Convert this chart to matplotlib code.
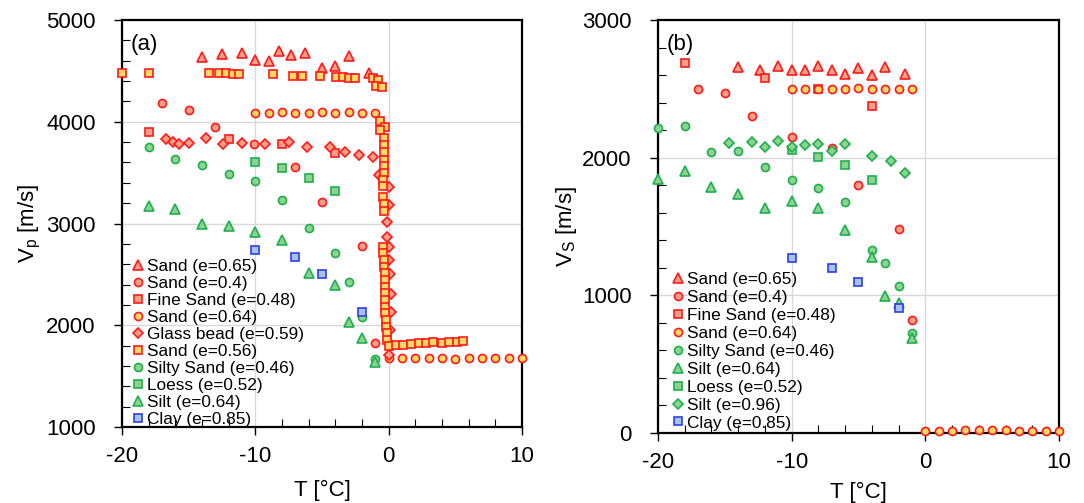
import matplotlib
matplotlib.use("Agg")
import matplotlib.pyplot as plt
from matplotlib.ticker import MultipleLocator

plt.rcParams['font.family'] = ['Liberation Sans', 'DejaVu Sans']
plt.rcParams['mathtext.fontset'] = 'custom'
plt.rcParams['mathtext.rm'] = 'Liberation Sans'
plt.rcParams['mathtext.it'] = 'Liberation Sans:italic'
plt.rcParams['axes.unicode_minus'] = False

# ---------------- Panel (a): Vp ----------------
a_sand065_T = [-14, -12.5, -11, -10, -9, -8.2, -7.3, -6.3, -5, -4, -3, -1.5]
a_sand065_V = [4633, 4663, 4672, 4607, 4600, 4695, 4653, 4672, 4525, 4551, 4650, 4476]

a_sand04_T = [-17, -15, -13, -10.1, -7, -5, -2, -1]
a_sand04_V = [4181, 4118, 3951, 3778, 3558, 3214, 2779, 1822]

a_fine_T = [-18, -12, -8, -4]
a_fine_V = [3896, 3830, 3778, 3690]

a_sand064_T = [-10, -9, -8, -7, -6, -5, -4, -3, -2, -1,
               0, 1, 2, 3, 4, 5, 6, 7, 8, 9, 10]
a_sand064_V = [4089, 4089, 4095, 4089, 4089, 4095, 4083, 4100, 4089, 4083,
               1675, 1675, 1675, 1682, 1682, 1665, 1675, 1675, 1675, 1675, 1675]

a_glass_T = [-16.7, -16.2, -15.7, -15.0, -13.7, -12.4, -11.0, -9.3, -7.5, -6.1,
             -4.4, -3.3, -2.2, -1.2, -0.7, 0.0, 0.05, -0.15, -0.15, 0.05,
             0.05, 0.1, 0.15, 0.15, 0.1, 0.05, 0.0]
a_glass_V = [3830, 3804, 3781, 3788, 3843, 3778, 3788, 3781, 3804, 3752,
             3752, 3703, 3670, 3654, 3477, 3356, 3182, 3010, 2870, 2772,
             2645, 2500, 2310, 2133, 1950, 1822, 1710]

a_sand056_T = [-20, -18, -13.45, -12.7, -12.2, -11.7, -11.2, -8.65, -7.15, -6.5,
               -5.15, -3.95, -3.4, -2.95, -2.55, -1.15, -0.8, -0.95, -0.5,
               -0.64, -0.26, -0.64, -0.34, -0.34, -0.34, -0.34, -0.34, -0.34,
               -0.39, -0.44, -0.44, -0.34, -0.34,
               -0.39, -0.39, -0.34, -0.34, -0.3, -0.3, -0.28, -0.26, -0.26,
               -0.24, -0.24, -0.22, -0.2, -0.15, -0.1, 0.02,
               0.56, 1.11, 1.67, 2.27, 2.81, 3.36, 3.99, 4.54, 5.12, 5.61]
a_sand056_V = [4482, 4482, 4476, 4476, 4476, 4473, 4466, 4469, 4453, 4453,
               4453, 4440, 4437, 4430, 4430, 4430, 4410, 4351, 4345,
               4010, 3951, 3919, 3837, 3771, 3706, 3624, 3565, 3496,
               3428, 3369, 3257, 3192, 3126,
               2766, 2707, 2641, 2575, 2510, 2445, 2379, 2314, 2248,
               2182, 2117, 2052, 1986, 1921, 1855, 1796,
               1803, 1806, 1816, 1822, 1829, 1838, 1829, 1835, 1838, 1845]

a_silty_T = [-18, -16, -14, -12, -10, -8, -6, -4, -3, -2, -1]
a_silty_V = [3755, 3637, 3572, 3490, 3418, 3231, 2953, 2707, 2422, 2084, 1665]

a_loess_T = [-10, -8, -6, -4]
a_loess_V = [3607, 3548, 3444, 3319]

a_silt064_T = [-18, -16, -14, -12, -10, -8, -6, -4, -3, -2, -1]
a_silt064_V = [3175, 3143, 2995, 2978, 2913, 2838, 2516, 2396, 2035, 1872, 1642]

a_clay_T = [-10, -7, -5, -2]
a_clay_V = [2739, 2674, 2504, 2127]

# ---------------- Panel (b): Vs ----------------
b_sand065_T = [-14, -12.4, -11, -10, -9, -8, -7, -6, -5, -4, -3, -1.5]
b_sand065_V = [2661, 2639, 2666, 2637, 2635, 2668, 2637, 2610, 2649, 2598, 2659, 2605]

b_sand04_T = [-17, -15, -13, -10, -7, -5, -2, -1]
b_sand04_V = [2497, 2472, 2305, 2148, 2068, 1804, 1484, 821]

b_fine_T = [-18, -12, -8, -4]
b_fine_V = [2685, 2581, 2501, 2375]

b_sand064_T = [-10, -9, -8, -7, -6, -5, -4, -3, -2, -1,
               0, 1, 2, 3, 4, 5, 6, 7, 8, 9, 10]
b_sand064_V = [2499, 2499, 2501, 2499, 2499, 2508, 2499, 2499, 2499, 2499,
               15, 15, 15, 22, 22, 22, 22, 15, 15, 15, 15]

b_silty_T = [-20, -18, -16, -14, -12, -10, -8, -6, -4, -3, -2, -1]
b_silty_V = [2218, 2230, 2043, 2051, 1934, 1838, 1782, 1678, 1329, 1232, 1068, 724]

b_silt064_T = [-20, -18, -16, -14, -12, -10, -8, -6, -4, -3, -2, -1]
b_silt064_V = [1845, 1905, 1785, 1734, 1637, 1688, 1637, 1475, 1281, 995, 942, 688]

b_loess_T = [-10, -8, -6, -4]
b_loess_V = [2056, 2007, 1947, 1838]

b_silt096_T = [-14.7, -13, -12, -11, -10, -9, -8, -7, -6, -4, -2.6, -1.5]
b_silt096_V = [2109, 2116, 2075, 2123, 2080, 2092, 2097, 2048, 2097, 2014, 1978, 1886]

b_clay_T = [-10, -7, -5, -2]
b_clay_V = [1269, 1201, 1099, 906]

# ---------------- styles ----------------
RED_E, RED_F = '#FF1A1A', '#F7A088'
YEL_F = '#FFD966'
GRN_E, GRN_F = '#1DB04E', '#8FD18F'
BLU_E, BLU_F = '#2B3FE8', '#A9C2EC'

styles = {
    'sand065': dict(marker='^', ms=7.0, mec=RED_E, mfc=RED_F),
    'sand04': dict(marker='o', ms=5.8, mec=RED_E, mfc=RED_F),
    'fine': dict(marker='s', ms=5.8, mec=RED_E, mfc=RED_F),
    'sand064': dict(marker='o', ms=5.8, mec=RED_E, mfc=YEL_F),
    'glass': dict(marker='D', ms=4.8, mec=RED_E, mfc=RED_F),
    'sand056': dict(marker='s', ms=5.8, mec=RED_E, mfc=YEL_F),
    'silty': dict(marker='o', ms=5.8, mec=GRN_E, mfc=GRN_F),
    'loess': dict(marker='s', ms=5.8, mec=GRN_E, mfc=GRN_F),
    'silt064': dict(marker='^', ms=7.0, mec=GRN_E, mfc=GRN_F),
    'silt096': dict(marker='D', ms=4.8, mec=GRN_E, mfc=GRN_F),
    'clay': dict(marker='s', ms=5.8, mec=BLU_E, mfc=BLU_F),
}

W, H = 1084, 503
fig = plt.figure(figsize=(W / 100, H / 100), dpi=100)
axA = fig.add_axes([122 / W, 1 - 427 / H, 400 / W, 407 / H])
axB = fig.add_axes([658 / W, 1 - 433 / H, 401 / W, 413 / H])

def draw(ax, T, V, key, label):
    ax.plot(T, V, linestyle='none', mew=1.2, label=label, clip_on=False,
            zorder=3, **styles[key])

draw(axA, a_sand065_T, a_sand065_V, 'sand065', 'Sand (e=0.65)')
draw(axA, a_sand04_T, a_sand04_V, 'sand04', 'Sand (e=0.4)')
draw(axA, a_fine_T, a_fine_V, 'fine', 'Fine Sand (e=0.48)')
draw(axA, a_sand064_T, a_sand064_V, 'sand064', 'Sand (e=0.64)')
draw(axA, a_glass_T, a_glass_V, 'glass', 'Glass bead (e=0.59)')
draw(axA, a_sand056_T, a_sand056_V, 'sand056', 'Sand (e=0.56)')
draw(axA, a_silty_T, a_silty_V, 'silty', 'Silty Sand (e=0.46)')
draw(axA, a_loess_T, a_loess_V, 'loess', 'Loess (e=0.52)')
draw(axA, a_silt064_T, a_silt064_V, 'silt064', 'Silt (e=0.64)')
draw(axA, a_clay_T, a_clay_V, 'clay', 'Clay (e=0.85)')

draw(axB, b_sand065_T, b_sand065_V, 'sand065', 'Sand (e=0.65)')
draw(axB, b_sand04_T, b_sand04_V, 'sand04', 'Sand (e=0.4)')
draw(axB, b_fine_T, b_fine_V, 'fine', 'Fine Sand (e=0.48)')
draw(axB, b_sand064_T, b_sand064_V, 'sand064', 'Sand (e=0.64)')
draw(axB, b_silty_T, b_silty_V, 'silty', 'Silty Sand (e=0.46)')
draw(axB, b_silt064_T, b_silt064_V, 'silt064', 'Silt (e=0.64)')
draw(axB, b_loess_T, b_loess_V, 'loess', 'Loess (e=0.52)')
draw(axB, b_silt096_T, b_silt096_V, 'silt096', 'Silt (e=0.96)')
draw(axB, b_clay_T, b_clay_V, 'clay', 'Clay (e=0.85)')

for ax, ylim, ymaj, ymin_, ylab, tag, lsp, lx, ly, xlp in [
        (axA, (1000, 5000), 1000, 200, r'V$_\mathrm{p}$ [m/s]', '(a)', 0.11, 0.029, 0.0, 9),
        (axB, (0, 3000), 1000, 200, r'V$_\mathrm{S}$ [m/s]', '(b)', 0.17, 0.039, 0.006, 6)]:
    ax.set_xlim(-20, 10)
    ax.set_ylim(*ylim)
    ax.xaxis.set_major_locator(MultipleLocator(10))
    ax.xaxis.set_minor_locator(MultipleLocator(2))
    ax.yaxis.set_major_locator(MultipleLocator(ymaj))
    ax.yaxis.set_minor_locator(MultipleLocator(ymin_))
    ax.grid(True, which='major', color='#D9D9D9', lw=1.0, zorder=0)
    ax.set_axisbelow(True)
    for s in ax.spines.values():
        s.set_linewidth(1.6)
    ax.tick_params(which='major', direction='out', length=6, width=1.0,
                   labelsize=16, top=False, right=False)
    ax.tick_params(axis='x', which='major', pad=8)
    ax.tick_params(axis='y', which='major', pad=13)
    ax.tick_params(which='minor', direction='in', length=6, width=0.8,
                   top=False, right=False)
    ax.set_xlabel('T [°C]', fontsize=16, labelpad=xlp)
    ax.set_ylabel(ylab, fontsize=16, labelpad=2)
    ax.text(0.022, 0.965, tag, transform=ax.transAxes, fontsize=16,
            ha='left', va='top')
    ax.legend(loc='lower left', frameon=False, fontsize=12.4,
              handlelength=0.5, handletextpad=0.3, labelspacing=lsp,
              borderpad=0.0, borderaxespad=0.0, numpoints=1,
              markerscale=1.0, bbox_to_anchor=(lx, ly))

fig.savefig('out.png', dpi=100)
